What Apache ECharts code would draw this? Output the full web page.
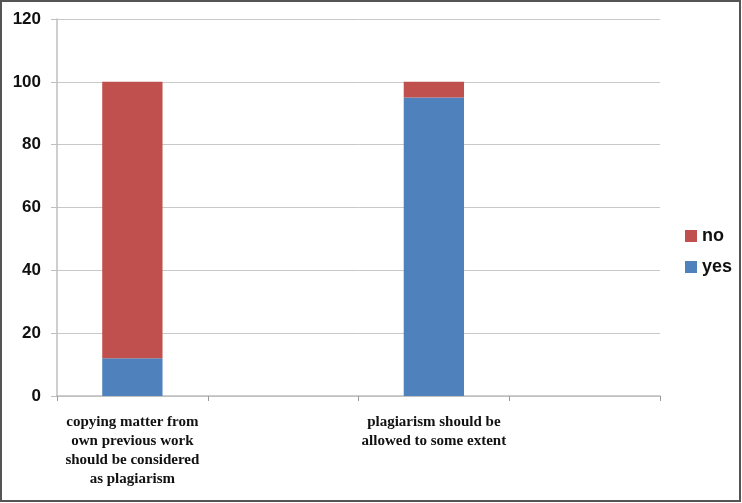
<!DOCTYPE html>
<html>
<head>
<meta charset="utf-8">
<script src="https://cdn.jsdelivr.net/npm/echarts@6/dist/echarts.min.js"></script>
<style>
html,body{margin:0;padding:0;background:#fff;}
#c{width:742px;height:503px;}
</style>
</head>
<body>
<div id="c"></div>
<script>
var categories = ['copying matter from\nown previous work\nshould be considered\nas plagiarism', '', 'plagiarism should be\nallowed to some extent', ''];
var yesValues = [12, null, 95, null];
var noValues = [88, null, 5, null];
var yTicks = [0, 20, 40, 60, 80, 100, 120];

var chart = echarts.init(document.getElementById('c'));
chart.setOption({
  animation: false,
  backgroundColor: '#fff',
  graphic: [{
    type: 'rect', shape: {x: 1, y: 1, width: 739, height: 500},
    style: {fill: 'none', stroke: '#555', lineWidth: 2}, silent: true
  }],
  grid: {left: 57, right: 82, top: 19, bottom: 107},
  legend: {
    data: ['no', 'yes'], orient: 'vertical', left: 680, top: 222,
    icon: 'rect', itemWidth: 12, itemHeight: 12, itemGap: 13,
    textStyle: {fontFamily: 'Liberation Sans', fontWeight: 'bold', fontSize: 18, color: '#111'}
  },
  xAxis: {
    type: 'category', data: categories,
    axisLine: {lineStyle: {color: '#bfbfbf', width: 1.5}},
    axisTick: {show: true, length: 5, lineStyle: {color: '#999'}},
    axisLabel: {interval: 0, margin: 17, lineHeight: 19,
      fontFamily: 'Liberation Serif', fontWeight: 'bold', fontSize: 15, color: '#111'}
  },
  yAxis: {
    type: 'value', min: 0, max: 120, interval: 20,
    axisLine: {show: true, lineStyle: {color: '#bfbfbf', width: 1.5}},
    axisTick: {show: true, length: 6, lineStyle: {color: '#bfbfbf'}},
    splitLine: {lineStyle: {color: '#c8c8c8', width: 1}},
    axisLabel: {margin: 16, fontFamily: 'Liberation Sans', fontWeight: 'bold', fontSize: 17, color: '#111',
      formatter: function (v) { return yTicks.indexOf(v) >= 0 ? String(v) : ''; }}
  },
  series: [
    {name: 'yes', type: 'bar', stack: 's', data: yesValues, barWidth: '40%',
      itemStyle: {color: '#4F81BD'}},
    {name: 'no', type: 'bar', stack: 's', data: noValues, barWidth: '40%',
      itemStyle: {color: '#C0504D'}}
  ]
});
</script>
</body>
</html>
